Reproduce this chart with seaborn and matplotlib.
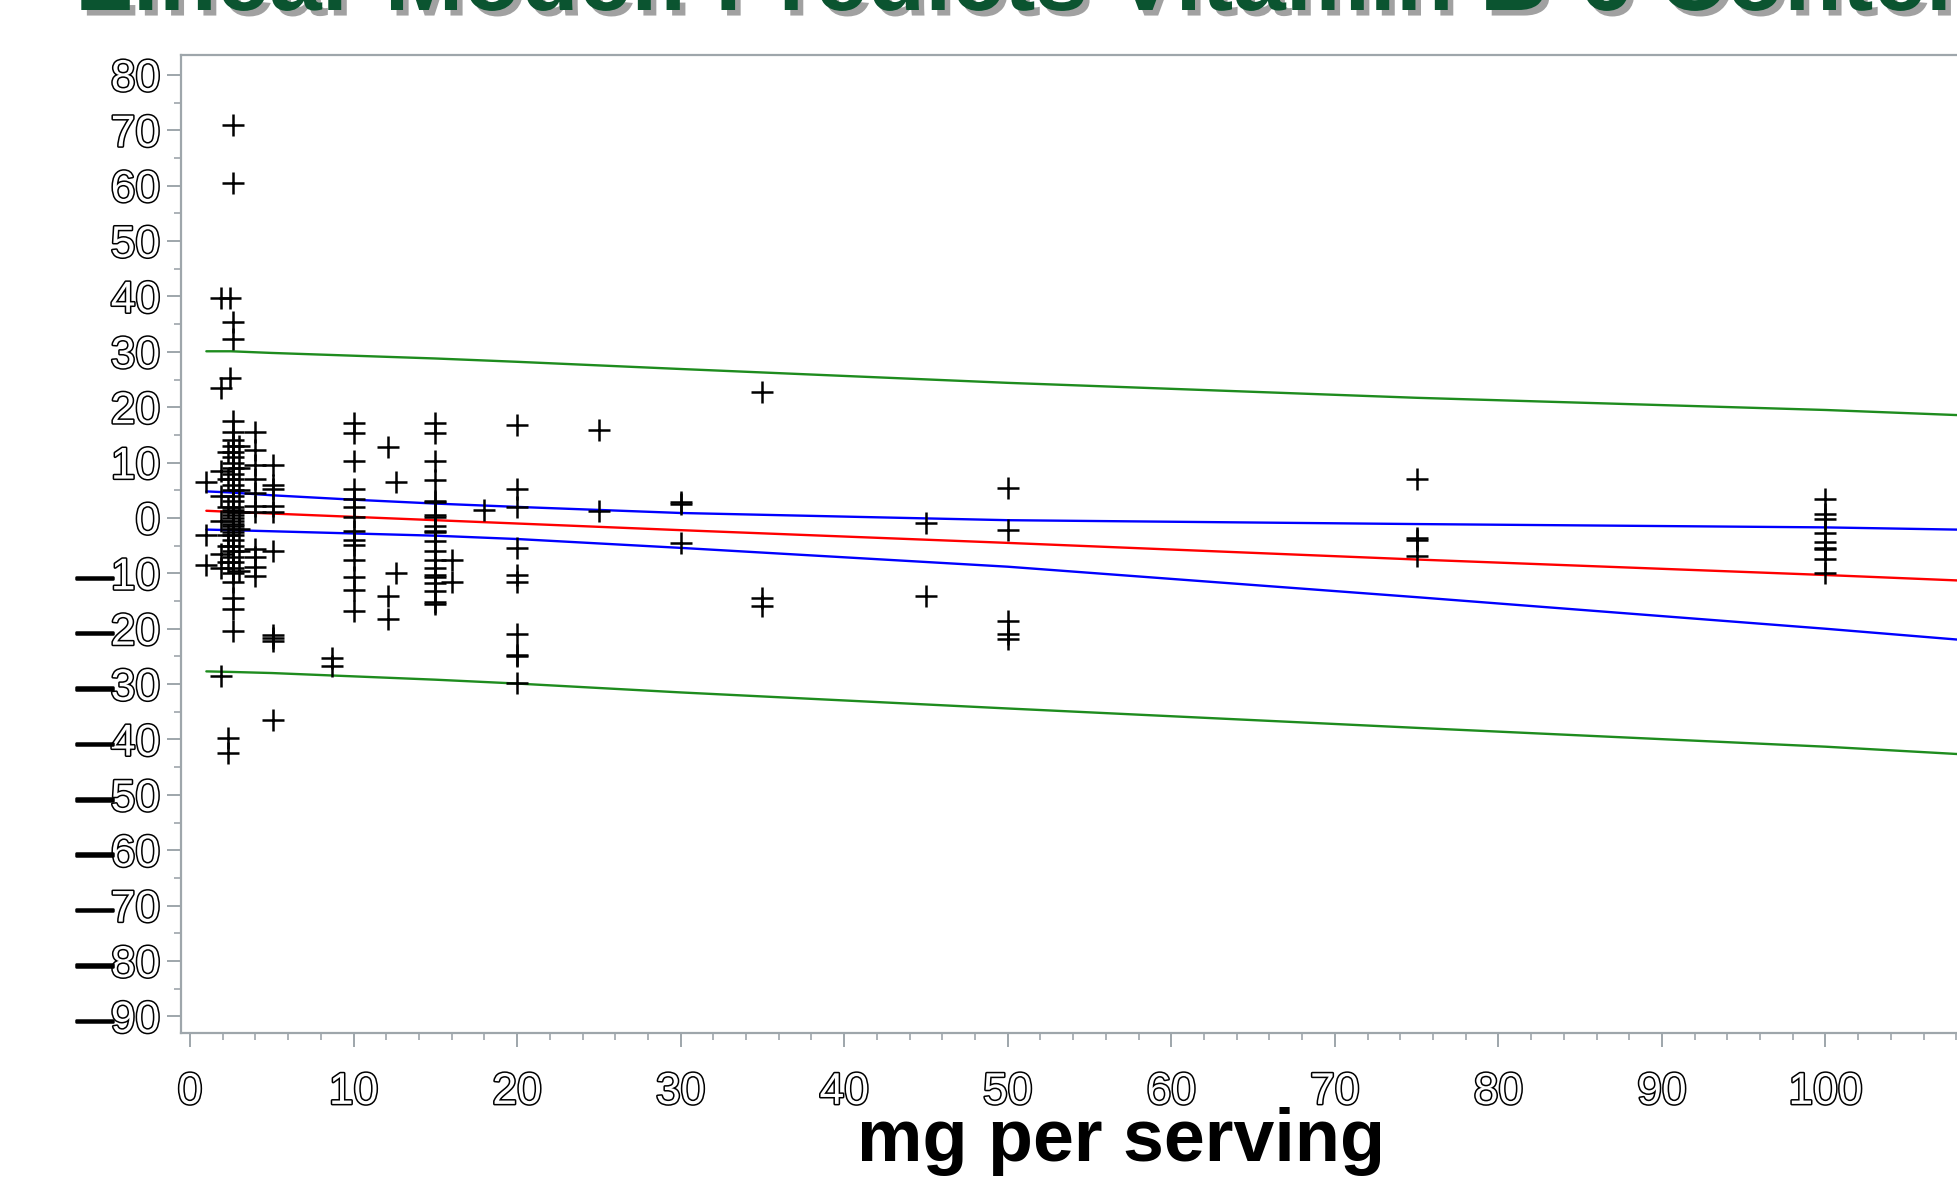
import matplotlib
matplotlib.use("Agg")
import matplotlib.pyplot as plt
import matplotlib.patheffects as pe
import seaborn as sns
import pandas as pd
import numpy as np

sns.set_style("white")
plt.rcParams["font.family"] = ["Liberation Sans", "DejaVu Sans"]

# residual-style scatter: dose (mg per serving) groups and their values
dose_groups = [1.0, 1.9, 2.3, 2.45, 2.65, 3.0, 4.0, 5.1, 8.7, 10, 12.1, 12.6,
               15, 16, 18, 20, 25, 30, 35, 45, 50, 75, 100]
group_values = [
    [6.5, -3.0, -8.5],
    [39.7, 23.4, -28.6, 8.5, 4.0, -0.5, -6.5, -9.0],
    [-39.7, -42.5, 12, 7, 2, -3, -5, -8],
    [39.7, 25.2],
    [70.9, 60.5, 35.3, 32.3, 17.5, 15.5, 14, 13, 12, 11, 10, 9, 8, 7, 6, 5, 4, 3,
     2, 1.5, 1, 0.5, 0, -0.5, -1, -1.5, -2, -2.5, -3, -4, -5, -6, -7, -8, -9,
     -10, -11.5, -14.5, -16.5, -20.5],
    [13, 9, 5, 1, -2, -6, -9.5],
    [15.6, 12.3, 9.6, 7.1, 4.5, 2.2, 1.1, -5.6, -7.1, -8.9, -10.5],
    [9.5, 6.0, 5.2, 2.2, 1.0, -6.0, -21.2, -21.6, -22.3, -36.4],
    [-25.2, -26.8],
    [17.2, 15.3, 10.2, 5.3, 3.5, 1.9, 0.1, -2.3, -4.0, -4.9, -7.6, -10.6, -13.0, -16.8],
    [12.9, -14.0, -18.3],
    [6.5, -10.0],
    [17.2, 15.3, 10.2, 6.8, 3.1, 2.8, 0.5, 0.2, -1.4, -2.4, -2.6, -4.2, -6.0, -7.6,
     -9.0, -10.3, -10.6, -11.8, -13.1, -15.2, -15.5],
    [-7.6, -11.5],
    [1.5],
    [16.8, 5.3, 1.9, -5.5, -10.3, -11.5, -21.0, -24.7, -25.0, -29.8],
    [15.9, 1.3],
    [2.8, 2.5, -4.6],
    [22.7, -14.5, -15.9],
    [-0.9, -14.0],
    [5.5, -2.1, -18.6, -20.9, -21.9],
    [7.1, -3.6, -4.0, -6.9],
    [3.5, 0.8, -0.2, -2.8, -4.4, -5.4, -5.6, -7.4, -10.0],
]

# fitted line and bands read at these doses
band_x = [1, 2.5, 5, 10, 15, 20, 30, 50, 75, 100, 114]
fit_line = [1.3, 1.1, 0.8, 0.2, -0.4, -1.0, -2.2, -4.5, -7.5, -10.3, -12.0]
conf_upper = [4.8, 4.6, 4.1, 3.3, 2.6, 2.0, 0.9, -0.4, -1.1, -1.7, -2.4]
conf_lower = [-2.1, -2.2, -2.4, -2.8, -3.2, -3.8, -5.4, -8.8, -14.3, -20.0, -23.4]
pred_upper = [30.1, 30.1, 29.8, 29.3, 28.8, 28.2, 26.9, 24.4, 21.7, 19.5, 17.9]
pred_lower = [-27.7, -27.8, -28.0, -28.6, -29.2, -29.9, -31.5, -34.4, -37.9, -41.3, -43.6]

x_ticks = list(range(0, 101, 10))
y_ticks = list(range(-90, 81, 10))

pts = pd.DataFrame(
    [(x, v) for x, vals in zip(dose_groups, group_values) for v in vals],
    columns=["dose", "value"],
)

W, H = 1957, 1191
ax_left, ax_top, ax_bottom, ax_w = 181, 55, 1033, 1880
fig = plt.figure(figsize=(W / 100, H / 100), dpi=100)
ax = fig.add_axes([ax_left / W, (H - ax_bottom) / H, ax_w / W, (ax_bottom - ax_top) / H])

for ys, col in [(pred_upper, "#1e8c1e"), (pred_lower, "#1e8c1e"),
                (conf_upper, "#0000ff"), (conf_lower, "#0000ff"),
                (fit_line, "#ff0000")]:
    sns.lineplot(x=band_x, y=ys, color=col, lw=1.7, estimator=None, ax=ax)

sns.scatterplot(data=pts, x="dose", y="value", marker="+", s=260,
                color="black", linewidth=1.8, ax=ax, zorder=3)

ax.set_xlim(-0.55, 114.4)
ax.set_ylim(-93.0, 83.6)

ax.set_xticks(x_ticks)
ax.set_xticklabels([str(v) for v in x_ticks])
ax.set_xticks(np.arange(0, 115, 2), minor=True)
ax.set_yticks(y_ticks)
ax.set_yticklabels([str(abs(v)) for v in y_ticks])
ax.set_yticks(np.arange(-90, 81, 5), minor=True)

axis_grey = "#9ea6ab"
for side in ["left", "bottom", "top"]:
    ax.spines[side].set_color(axis_grey)
    ax.spines[side].set_linewidth(1.6)
ax.spines["right"].set_visible(False)

ax.tick_params(axis="both", which="major", length=10, width=1.4, color=axis_grey,
               labelsize=32, labelcolor="white")
ax.tick_params(axis="both", which="minor", length=5, width=1.2, color=axis_grey)
ax.tick_params(axis="x", which="both", bottom=True)
ax.tick_params(axis="x", which="major", pad=18)
ax.tick_params(axis="y", which="both", left=True)
ax.tick_params(axis="y", which="major", pad=5)

# hollow (outlined) tick digits like the original output
outline = [pe.Stroke(linewidth=2.2, foreground="black"), pe.Normal()]
for lbl in ax.get_xticklabels() + ax.get_yticklabels():
    lbl.set_path_effects(outline)

# solid long dash in front of the negative tick values
for v in y_ticks:
    if v < 0:
        ax.text(-(ax_left - 113) / ax_w, v, "\u2014", transform=ax.get_yaxis_transform(),
                ha="right", va="center_baseline", fontsize=27, color="black",
                path_effects=[pe.Stroke(linewidth=1.8, foreground="black"), pe.Normal()])

ax.set_ylabel("")
ax.set_xlabel("mg per serving", fontsize=53, fontweight="bold", color="black",
              va="baseline")
ax.xaxis.set_label_coords(0.5, -(1161 - ax_bottom) / (ax_bottom - ax_top))

fig.text(75 / W, 1 - 10 / H, "Linear Model: Predicts Vitamin B-6 Content",
         fontsize=68, fontweight="bold", color="#0b5430", ha="left", va="baseline",
         path_effects=[pe.SimplePatchShadow(offset=(4, -4), shadow_rgbFace="#444444",
                                            alpha=0.5), pe.Normal()])

fig.savefig("out.png", dpi=100)
